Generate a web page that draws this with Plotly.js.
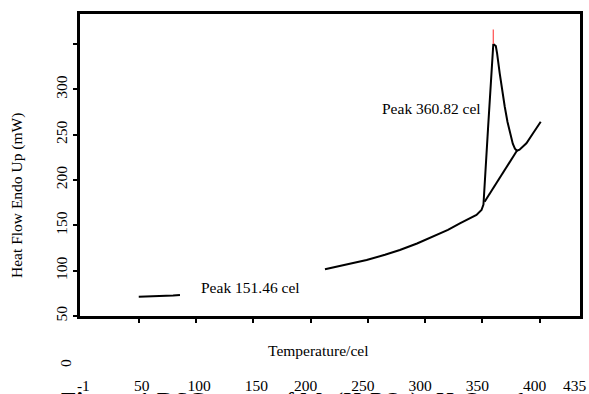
<!DOCTYPE html>
<html><head><meta charset="utf-8">
<script src="https://cdn.plot.ly/plotly-3.0.1.min.js"></script>
<style>html,body{margin:0;padding:0;background:#fff;}#chart{width:589px;height:394px;}</style>
</head><body><div id="chart"></div>
<script>
// first (low-temperature) segment
const lowTemp = [50, 62, 71, 80, 86];
const lowHeat = [71.3, 71.5, 72.3, 72.6, 73.2];
// main DSC curve
const mainTemp = [212.6, 230, 249, 265, 278, 293, 307, 320, 330.4, 338, 344.9, 349.3, 351, 355, 359.6, 361.8, 362.9, 365.2, 367.4, 369.6, 372, 374, 376.6, 378.5, 380.2, 382.5, 385, 388.5, 394.3, 401];
const mainHeat = [101.5, 106.5, 111.8, 117.5, 122.8, 130, 137.5, 145, 152.2, 157, 161.4, 166.9, 173, 257, 350, 347.8, 339.7, 317.7, 298, 280.8, 264, 252.5, 240, 234.5, 232.3, 233.5, 236.5, 240.5, 251.6, 264.3];
// integration baseline under the peak
const baseTemp = [352, 380.2];
const baseHeat = [176, 232.3];
// red peak marker
const markTemp = [359.6, 359.6];
const markHeat = [350, 366];

const xRange = [-1.3, 435.3];
const yRange = [50, 383.1];
const xTickVals = [50, 100, 150, 200, 250, 300, 350, 400];
const xLabelValsLeft = [-1, 50, 100, 150];
const xLabelTextLeft = ["-1", "50", "100", "150"];
const xLabelValsRight = [200, 250, 300, 350, 400, 435];
const xLabelTextRight = ["200", "250", "300", "350", "400", "435"];
const yTickVals = [50, 100, 150, 200, 250, 300, 350];
const yTickText = ["50", "100", "150", "200", "250", "300", ""];

const serif = "Liberation Serif, Times New Roman, serif";
const fnt = {family: serif, size: 15.5, color: "#000"};

const line = {color: "#000", width: 2};
const traces = [
  {x: lowTemp, y: lowHeat, mode: "lines", line: line, hoverinfo: "skip"},
  {x: mainTemp, y: mainHeat, mode: "lines", line: line, hoverinfo: "skip"},
  {x: baseTemp, y: baseHeat, mode: "lines", line: line, hoverinfo: "skip"},
  {x: markTemp, y: markHeat, mode: "lines", line: {color: "#ff5a5a", width: 1.3}, hoverinfo: "skip"},
  {x: [], y: [], xaxis: "x2", mode: "lines", hoverinfo: "skip"},
  {x: [], y: [], xaxis: "x3", mode: "lines", hoverinfo: "skip"}
];

function px(p) { return (p - 80) / 500; }
function py(p) { return (316 - p) / 302; }
function note(text, x, y, extra) {
  return Object.assign({text: text, xref: "paper", yref: "paper", x: px(x), y: py(y),
    xanchor: "center", yanchor: "middle", showarrow: false, font: fnt}, extra || {});
}
function labelAxis(vals, text, shift) {
  return {
    overlaying: "x", anchor: "y", side: "bottom", range: xRange,
    tickmode: "array", tickvals: vals, ticktext: text,
    ticks: "", showline: false, showgrid: false, zeroline: false,
    tickfont: fnt, ticklabelstandoff: 58, ticklabeloverflow: "allow", ticklabelshift: shift
  };
}

const layout = {
  width: 589, height: 394,
  margin: {l: 80, r: 9, t: 14, b: 78, pad: 0},
  paper_bgcolor: "#fff", plot_bgcolor: "#fff",
  showlegend: false,
  font: fnt,
  xaxis: {
    range: xRange, tickmode: "array", tickvals: xTickVals, showticklabels: false,
    ticks: "outside", ticklen: 4, tickwidth: 2, tickcolor: "#000",
    showline: true, linewidth: 3, linecolor: "#000", mirror: true,
    showgrid: false, zeroline: false
  },
  xaxis2: labelAxis(xLabelValsLeft, xLabelTextLeft, 3),
  xaxis3: labelAxis(xLabelValsRight, xLabelTextRight, -5),
  yaxis: {
    range: yRange, tickmode: "array", tickvals: yTickVals, ticktext: yTickText,
    ticks: "outside", ticklen: 4, tickwidth: 2, tickcolor: "#000",
    tickangle: -90, tickfont: fnt,
    showline: true, linewidth: 3, linecolor: "#000", mirror: true,
    showgrid: false, zeroline: false
  },
  annotations: [
    note("Heat Flow Endo Up (mW)", 17, 196, {textangle: -90}),
    note("0", 65, 363, {textangle: -90}),
    note("Temperature/cel", 318, 350),
    note("Peak 360.82 cel", 431, 108),
    note("Peak 151.46 cel", 250, 287),
    note("<b>Figure 1</b> DSC curve of Mn(H<sub>2</sub>PO<sub>4</sub>)<sub>2</sub>·H<sub>2</sub>O at the", 59, 386,
      {xanchor: "left", yanchor: "top", font: {family: serif, size: 25, color: "#000"}})
  ]
};

Plotly.newPlot("chart", traces, layout, {staticPlot: true, displayModeBar: false});
</script>
</body></html>
